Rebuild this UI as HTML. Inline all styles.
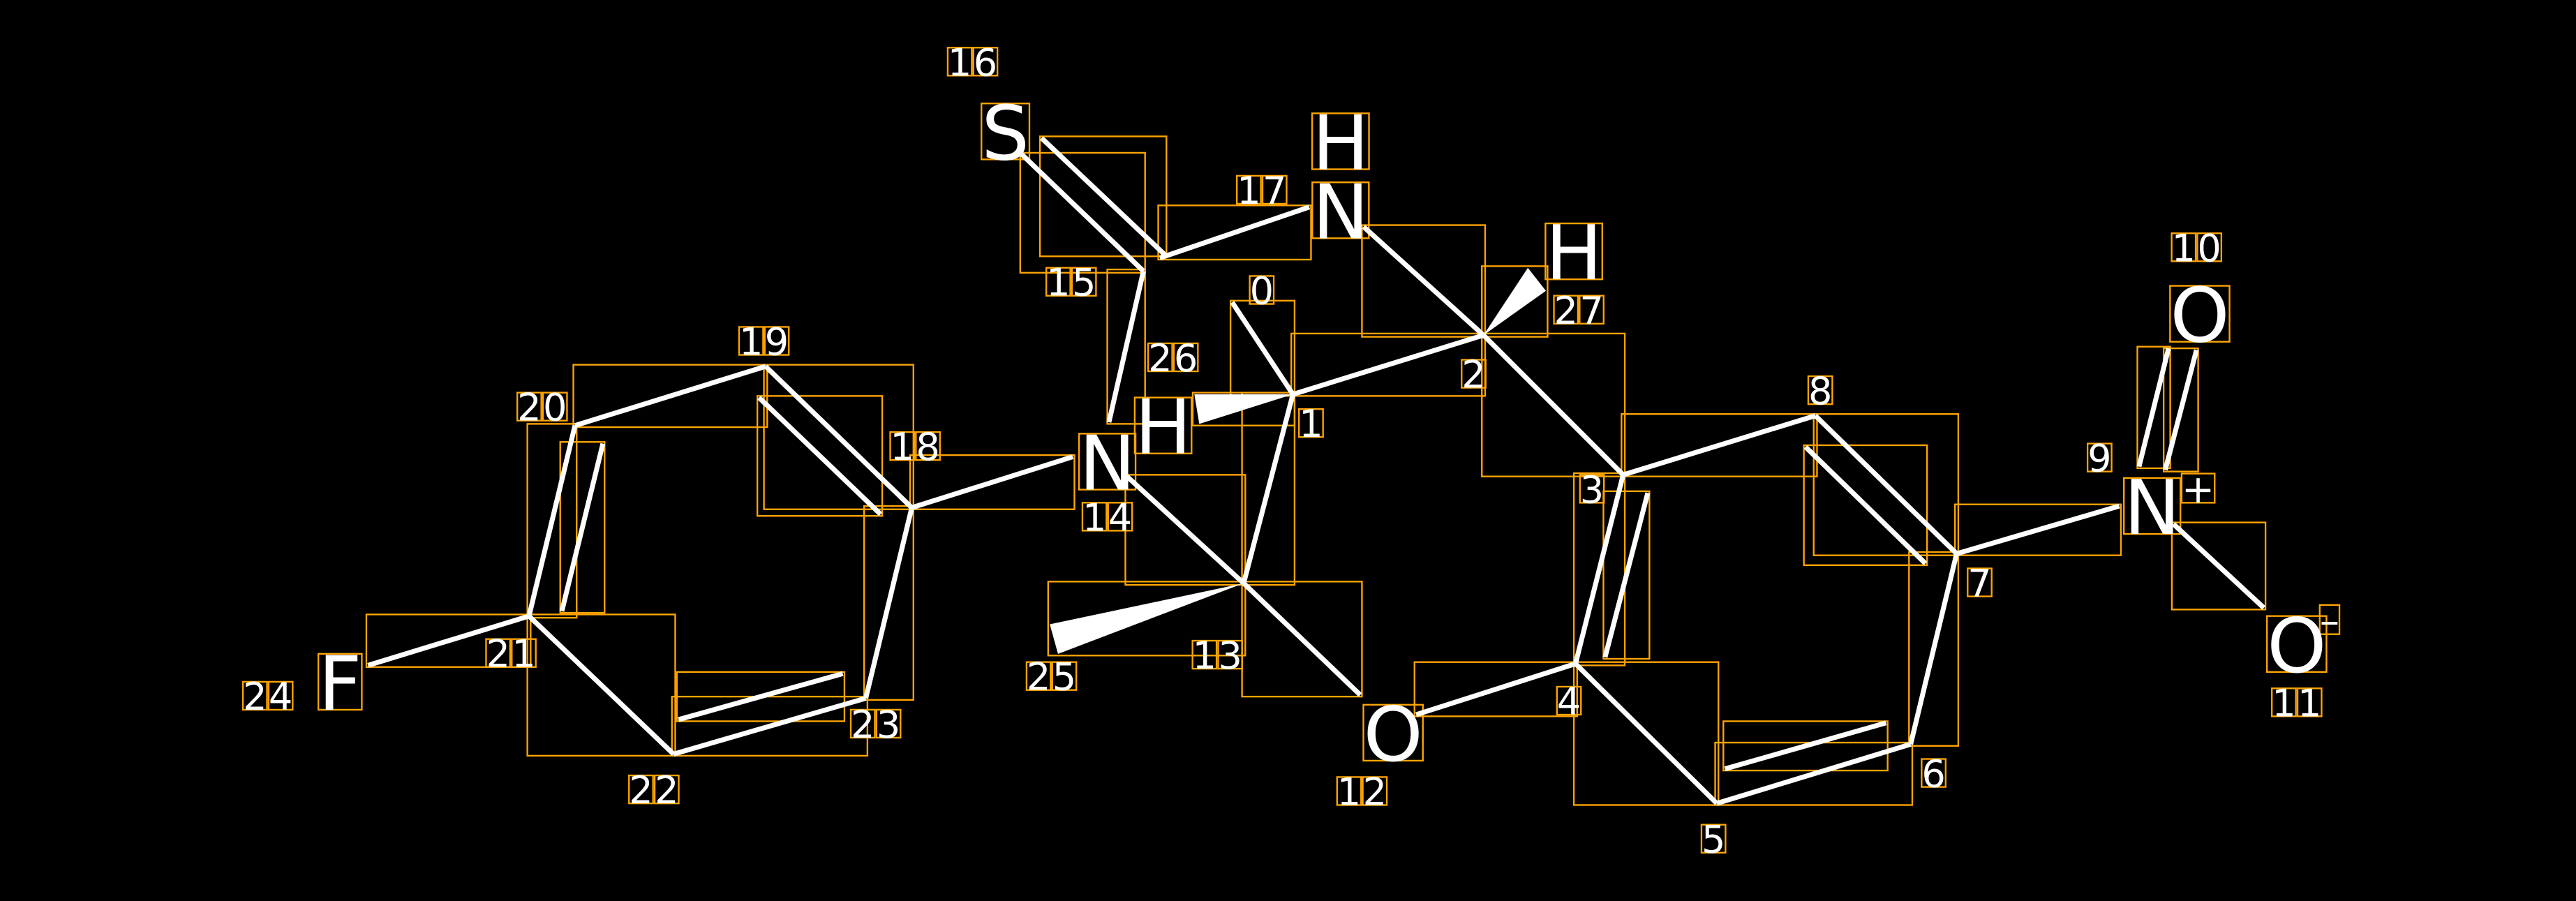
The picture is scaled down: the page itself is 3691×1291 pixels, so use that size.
<!DOCTYPE html>
<html><head><meta charset="utf-8">
<style>
html,body{margin:0;padding:0;background:#000;}
svg{display:block;}
text{font-family:"DejaVu Sans","Liberation Sans",sans-serif;fill:#fff;}
</style></head>
<body>
<svg id="s" width="3691" height="1291" viewBox="0 0 1568 548.4" xmlns="http://www.w3.org/2000/svg">
<rect x="0" y="0" width="1568" height="548.4" fill="#000"/>
<g id="boxes" fill="none" stroke="#FFA500" stroke-width="1"></g>
<g id="bonds" stroke="#fff" stroke-width="3" stroke-linecap="butt"></g>
<g id="wedges" fill="#fff"></g>
<g id="labels"></g>
</svg>
<script>
var NS="http://www.w3.org/2000/svg";
var bonds=[
[622,94,696,165],[634,84,709,155],[706,157,797,126],[696,165,675,257],
[830,138,903,204],[903,204,787,240],[787,240,750,184],[787,240,757,355],
[757,355,686,290],[757,355,828,423],[862,435,959,404],[903,204,988,289],
[988,289,959,404],[1003,300,977,400],[988,289,1105,253],[1105,253,1191,337],
[1099,272,1172,343],[1191,337,1163,453],[1163,453,1045,489],[1148,440,1050,468],
[1045,489,959,404],[1191,337,1290,308],[1302,284,1320,212],[1318,286,1337,213],
[1323,319,1378,370],[653,278,555,309],[555,309,466,223],[536,313,462,242],
[466,223,350,259],[350,259,322,375],[367,270,342,372],[322,375,410,459],
[410,459,527,425],[413,438,513,410],[527,425,555,309],[322,375,224,405]
];
var wedges=[
[[903,204],[930,163],[941,177]],
[[787,240],[727,240],[730,258]],
[[757,355],[639,380],[644,398]]
];
var bg=document.getElementById('bonds'),bx=document.getElementById('boxes'),wg=document.getElementById('wedges'),lg=document.getElementById('labels');
function el(t,a,p){var e=document.createElementNS(NS,t);for(var k in a)e.setAttribute(k,a[k]);p.appendChild(e);return e;}
bonds.forEach(function(b){
 el('line',{x1:b[0],y1:b[1],x2:b[2],y2:b[3]},bg);
 var x=Math.min(b[0],b[2]),y=Math.min(b[1],b[3]);
 el('rect',{x:x-1,y:y-1,width:Math.abs(b[2]-b[0])+2,height:Math.abs(b[3]-b[1])+2},bx);
});
wedges.forEach(function(w){
 el('polygon',{points:w.map(function(p){return p.join(',')}).join(' ')},wg);
 var xs=w.map(function(p){return p[0]}),ys=w.map(function(p){return p[1]});
 var x=Math.min.apply(0,xs),y=Math.min.apply(0,ys);
 el('rect',{x:x-1,y:y-1,width:Math.max.apply(0,xs)-x+2,height:Math.max.apply(0,ys)-y+2},bx);
});
var L=[
["S",612,97,46],["H",816,103,46],["N",816,145,46],["H",958,170,46],
["N",674,298,46],["H",708,276,46],["O",1339,208,46],["N",1310,325,46],["+",1338,306,24],
["O",1398,409,46],["\u2013",1418,386,24],["O",848,463,46],["F",207,432,46],
["16",592,46,23],["17",768,124,23],["15",652,180,23],["0",768,185,23],["26",714,226,23],
["27",961,197,23],["2",897,236,23],["1",798,266,23],["3",969,306,23],["8",1108,246,23],
["9",1278,287,23],["10",1337,159,23],["7",1205,363,23],["6",1177,479,23],["5",1043,519,23],
["4",955,435,23],["11",1398,436,23],["12",829,490,23],["13",741,407,23],["25",640,420,23],
["14",674,323,23],["18",557,280,23],["19",465,216,23],["20",330,256,23],["21",311,406,23],
["22",398,489,23],["23",533,449,23],["24",163,432,23]
];
L.forEach(function(l){
 var chars=l[0].split(''),s=l[3],cw=(s<30?s*0.68:s*0.62),n=chars.length,x0=l[1]-n*cw/2;
 chars.forEach(function(c,i){
  var cx=x0+cw*(i+0.5);
  var t=el('text',{x:cx,y:l[2],'font-size':s,'text-anchor':'middle'},lg);
  t.textContent=c;
  try{var b=t.getBBox();
   var h=s*0.74,top=l[2]-h;
   el('rect',{x:b.x,y:top,width:b.width,height:h},bx);}catch(e){}
 });
});
</script>
</body></html>
